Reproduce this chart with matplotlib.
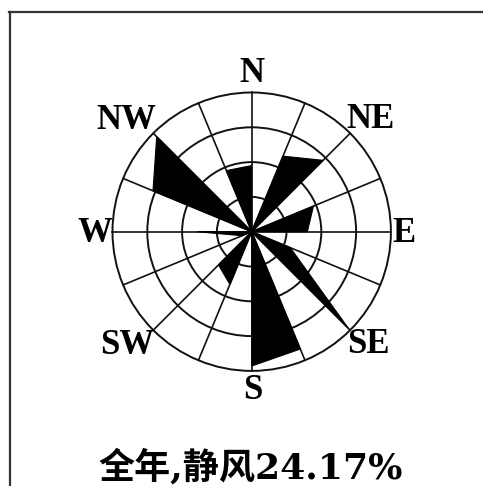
import numpy as np
import matplotlib
matplotlib.use("Agg")
import matplotlib.pyplot as plt
from matplotlib.patches import Circle, Polygon
from matplotlib.lines import Line2D

# 16 compass sectors, clockwise from north (degrees)
directions = ["N", "NNE", "NE", "ENE", "E", "ESE", "SE", "SSE",
              "S", "SSW", "SW", "WSW", "W", "WNW", "NW", "NNW"]
bearings = np.arange(16) * 22.5
# frequency of each sector, in ring units (one ring = one scale step)
freq = [1.90, 2.35, 2.90, 1.92, 1.60, 1.20, 3.94, 3.65,
        3.86, 1.64, 1.35, 0.30, 1.57, 3.07, 3.86, 1.90]
n_rings = 4

label_dirs = ["N", "NE", "E", "SE", "S", "SW", "W", "NW"]
label_pos = [(0.0, 4.55), (3.4, 3.22), (4.38, -0.04), (3.34, -3.25),
             (0.03, -4.57), (-3.58, -3.28), (-4.5, -0.04), (-3.61, 3.2)]
title = "全年,静风24.17%"

W, H = 483, 486
fig = plt.figure(figsize=(W / 100, H / 100), dpi=100)

# rose centre in pixels and size of one ring
cx, cy, step = 251.7, 231.7, 34.8
half = 5 * step
ax = fig.add_axes([(cx - half) / W, (H - cy - half) / H, 2 * half / W, 2 * half / H])
ax.set_xlim(-5, 5)
ax.set_ylim(-5, 5)
ax.set_aspect("equal")
ax.axis("off")


def pt(b, r):
    a = np.deg2rad(b)
    return r * np.sin(a), r * np.cos(a)


# grid: rings and 16 spokes
for r in range(1, n_rings + 1):
    ax.add_patch(Circle((0, 0), r, fill=False, lw=1.4, ec="#111111", zorder=1))
for b in bearings:
    x, y = pt(b, n_rings)
    ax.plot([0, x], [0, y], color="#111111", lw=1.2, zorder=1)

# petals: filled triangles joining each odd sector with the next even one
for i in range(1, 16, 2):
    j = (i + 1) % 16
    poly = [(0, 0), pt(bearings[i], freq[i]), pt(bearings[j], freq[j])]
    ax.add_patch(Polygon(poly, closed=True, fc="black", ec="black", lw=0.8, zorder=3))

for name, (x, y) in zip(label_dirs, label_pos):
    ax.text(x, y, name, ha="center", va="center", fontsize=25,
            fontweight="bold", family="Liberation Serif", zorder=4)

fig.text(251 / W, 1 - 467 / H, title, ha="center", va="center", fontsize=26,
         fontweight="bold", family=["DejaVu Serif", "Noto Sans CJK SC"])

# frame (left and top edges only fall inside the image)
fig.add_artist(Line2D([10 / W, 10 / W], [1 - 12 / H, 0], transform=fig.transFigure,
                      color="#333333", lw=1.6))
fig.add_artist(Line2D([9 / W, 1], [1 - 12 / H, 1 - 12 / H], transform=fig.transFigure,
                      color="#333333", lw=1.6))

fig.savefig("out.png", dpi=100)
